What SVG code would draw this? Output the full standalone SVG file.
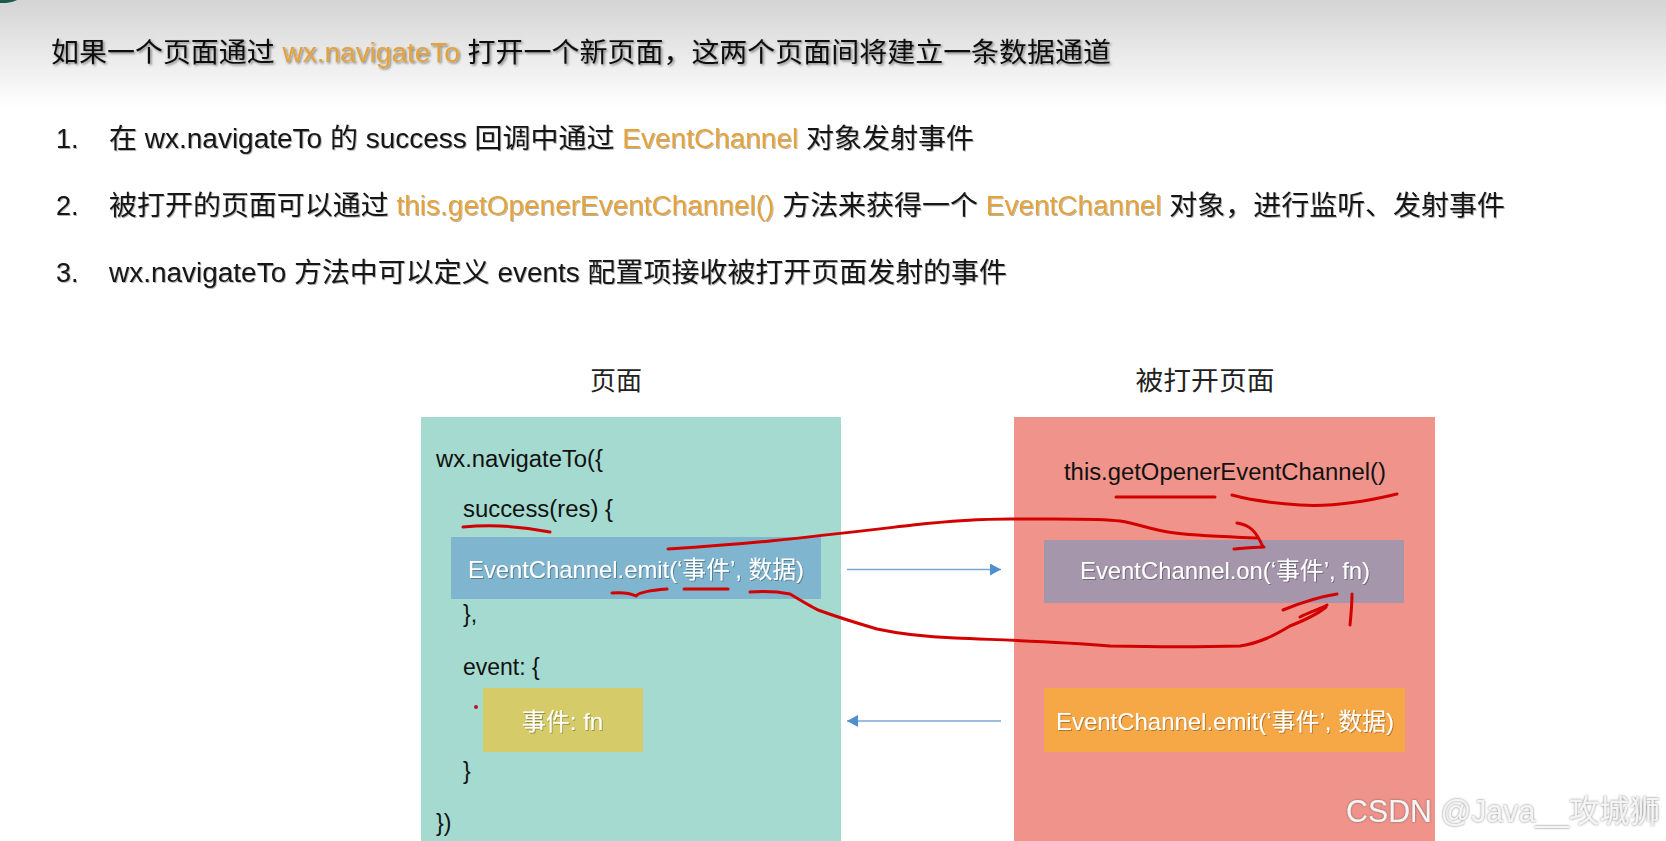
<svg xmlns="http://www.w3.org/2000/svg" width="1666" height="841" viewBox="0 0 1666 841">
<defs>
<linearGradient id="hdr" x1="0" y1="0" x2="0" y2="1">
<stop offset="0" stop-color="#d4d4d4"/>
<stop offset="1" stop-color="#ffffff"/>
</linearGradient>
<filter id="shadow" x="-5%" y="-30%" width="110%" height="160%">
<feDropShadow dx="1.5" dy="1.5" stdDeviation="0.8" flood-color="#000" flood-opacity="0.45"/>
</filter>
<filter id="soft" x="-5%" y="-30%" width="110%" height="160%">
<feDropShadow dx="1" dy="1" stdDeviation="0.6" flood-color="#000" flood-opacity="0.3"/>
</filter>
<filter id="wm" x="-5%" y="-30%" width="110%" height="160%">
<feDropShadow dx="0" dy="0" stdDeviation="0.8" flood-color="#555" flood-opacity="0.8"/>
</filter>
<marker id="arr" markerUnits="userSpaceOnUse" markerWidth="12" markerHeight="12" refX="11" refY="6" orient="auto">
<path d="M0,0 L11,6 L0,12 z" fill="#4f8fcf"/>
</marker>
<style>
.cjk{font-family:"Liberation Sans","Noto Sans CJK SC",sans-serif;}
.title{font-size:27px;fill:#111;}
.item{font-size:27px;fill:#151515;}
.hl{fill:#E4A23A;}
.head{font-size:26px;fill:#222;}
.code{font-size:23px;fill:#111;}
.wcode{font-size:24px;fill:#fff;}
.conn{stroke:#7ba7d4;stroke-width:1.5;fill:none;}
.red{stroke:#d30000;stroke-width:3;fill:none;stroke-linecap:round;stroke-linejoin:round;}
</style>
</defs>
<rect x="0" y="0" width="1666" height="841" fill="#ffffff"/>
<rect x="0" y="0" width="1666" height="108" fill="url(#hdr)"/>
<ellipse cx="2" cy="-8" rx="22" ry="11" fill="#1e5a4c"/>

<g id="title">
<text class="cjk title" x="51" y="62" textLength="1060" lengthAdjust="spacingAndGlyphs" filter="url(#shadow)">如果一个页面通过 <tspan class="hl">wx.navigateTo</tspan> 打开一个新页面，这两个页面间将建立一条数据通道</text>
</g>

<g id="list">
<text class="cjk item" x="56" y="148" filter="url(#soft)">1.</text>
<text class="cjk item" x="109" y="148" textLength="865" lengthAdjust="spacingAndGlyphs" filter="url(#soft)">在 wx.navigateTo 的 success 回调中通过 <tspan class="hl">EventChannel</tspan> 对象发射事件</text>
<text class="cjk item" x="56" y="215" filter="url(#soft)">2.</text>
<text class="cjk item" x="109" y="215" textLength="1396" lengthAdjust="spacingAndGlyphs" filter="url(#soft)">被打开的页面可以通过 <tspan class="hl">this.getOpenerEventChannel()</tspan> 方法来获得一个 <tspan class="hl">EventChannel</tspan> 对象，进行监听、发射事件</text>
<text class="cjk item" x="56" y="282" filter="url(#soft)">3.</text>
<text class="cjk item" x="109" y="282" textLength="898" lengthAdjust="spacingAndGlyphs" filter="url(#soft)">wx.navigateTo 方法中可以定义 events 配置项接收被打开页面发射的事件</text>
</g>

<g id="page">
<text class="cjk head" x="616" y="390" text-anchor="middle">页面</text>
<rect x="421" y="417" width="420" height="430" fill="#a4dacf"/>
<text class="cjk code" x="436" y="467" textLength="167" lengthAdjust="spacingAndGlyphs">wx.navigateTo({</text>
<text class="cjk code" x="463" y="517" textLength="150" lengthAdjust="spacingAndGlyphs">success(res) {</text>
<text class="cjk code" x="463" y="622">},</text>
<text class="cjk code" x="463" y="675">event: {</text>
<text class="cjk code" x="463" y="779">}</text>
<text class="cjk code" x="436" y="831">})</text>
<circle cx="476" cy="707" r="2" fill="#c0102a"/>
</g>

<g id="page-emit">
<rect x="451" y="537" width="370" height="62" fill="#80b5cf"/>
<text class="cjk wcode" x="468" y="578" textLength="336" lengthAdjust="spacingAndGlyphs" filter="url(#soft)">EventChannel.emit(‘事件’, 数据)</text>
</g>

<g id="page-event">
<rect x="483" y="688" width="160" height="64" fill="#d5cb68"/>
<text class="cjk wcode" x="562.5" y="730" text-anchor="middle" filter="url(#soft)">事件: fn</text>
</g>

<g id="opened-page">
<text class="cjk head" x="1205" y="390" text-anchor="middle" textLength="139" lengthAdjust="spacingAndGlyphs">被打开页面</text>
<rect x="1014" y="417" width="421" height="430" fill="#f0938a"/>
<text class="cjk code" x="1225" y="480" text-anchor="middle" font-size="24" textLength="322" lengthAdjust="spacingAndGlyphs">this.getOpenerEventChannel()</text>
</g>

<g id="opened-on">
<rect x="1044" y="540" width="360" height="63" fill="#a696ac"/>
<text class="cjk wcode" x="1225" y="579" text-anchor="middle" textLength="290" lengthAdjust="spacingAndGlyphs" filter="url(#soft)">EventChannel.on(‘事件’, fn)</text>
</g>

<g id="opened-emit">
<rect x="1044" y="688" width="361" height="64" fill="#f6a847"/>
<text class="cjk wcode" x="1225" y="730" text-anchor="middle" textLength="338" lengthAdjust="spacingAndGlyphs" filter="url(#soft)">EventChannel.emit(‘事件’, 数据)</text>
</g>

<g id="connectors">
<line class="conn" x1="847" y1="569.5" x2="1001" y2="569.5" marker-end="url(#arr)"/>
<line class="conn" x1="1001" y1="721" x2="847" y2="721" marker-end="url(#arr)"/>
</g>

<g id="annotations">
<path class="red" d="M463,527 Q505,523 550,532"/>
<path class="red" d="M668,549 C700,547 740,544 770,541 C820,536 870,530 913,525 C950,521 990,519 1010,519 C1060,519 1100,518 1120,521 C1140,524 1150,530 1175,533 C1200,536 1230,537 1258,538"/>
<path class="red" d="M1237,523 C1250,525 1256,531 1263,547 M1234,549 C1245,548 1255,547 1264,547"/>
<path class="red" d="M612,593 Q628,592 636,596 Q640,591 667,589"/>
<path class="red" d="M684,589 L728,589"/>
<path class="red" d="M750,592 C765,591 780,592 790,594 C800,600 810,606 818,610 C840,618 860,624 877,629 C900,634 930,637 955,638 C1000,640 1050,641 1110,646 C1160,647 1200,647 1240,646 C1260,643 1275,635 1290,626 C1305,620 1318,614 1326,607"/>
<path class="red" d="M1283,610 C1300,603 1318,597 1337,594 M1300,617 C1310,612 1320,609 1327,605 M1352,594 C1352,605 1351,615 1350,625"/>
<path class="red" d="M1116,497 L1215,497 M1232,495 C1250,500 1270,503 1300,505 C1330,507 1360,503 1397,494"/>
</g>

<g id="watermark">
<text x="1346" y="822" font-family="'Liberation Sans','Noto Sans CJK SC',sans-serif" font-size="31" fill="#f4f4f4" textLength="314" lengthAdjust="spacingAndGlyphs" filter="url(#wm)">CSDN @Java__攻城狮</text>
</g>
</svg>
